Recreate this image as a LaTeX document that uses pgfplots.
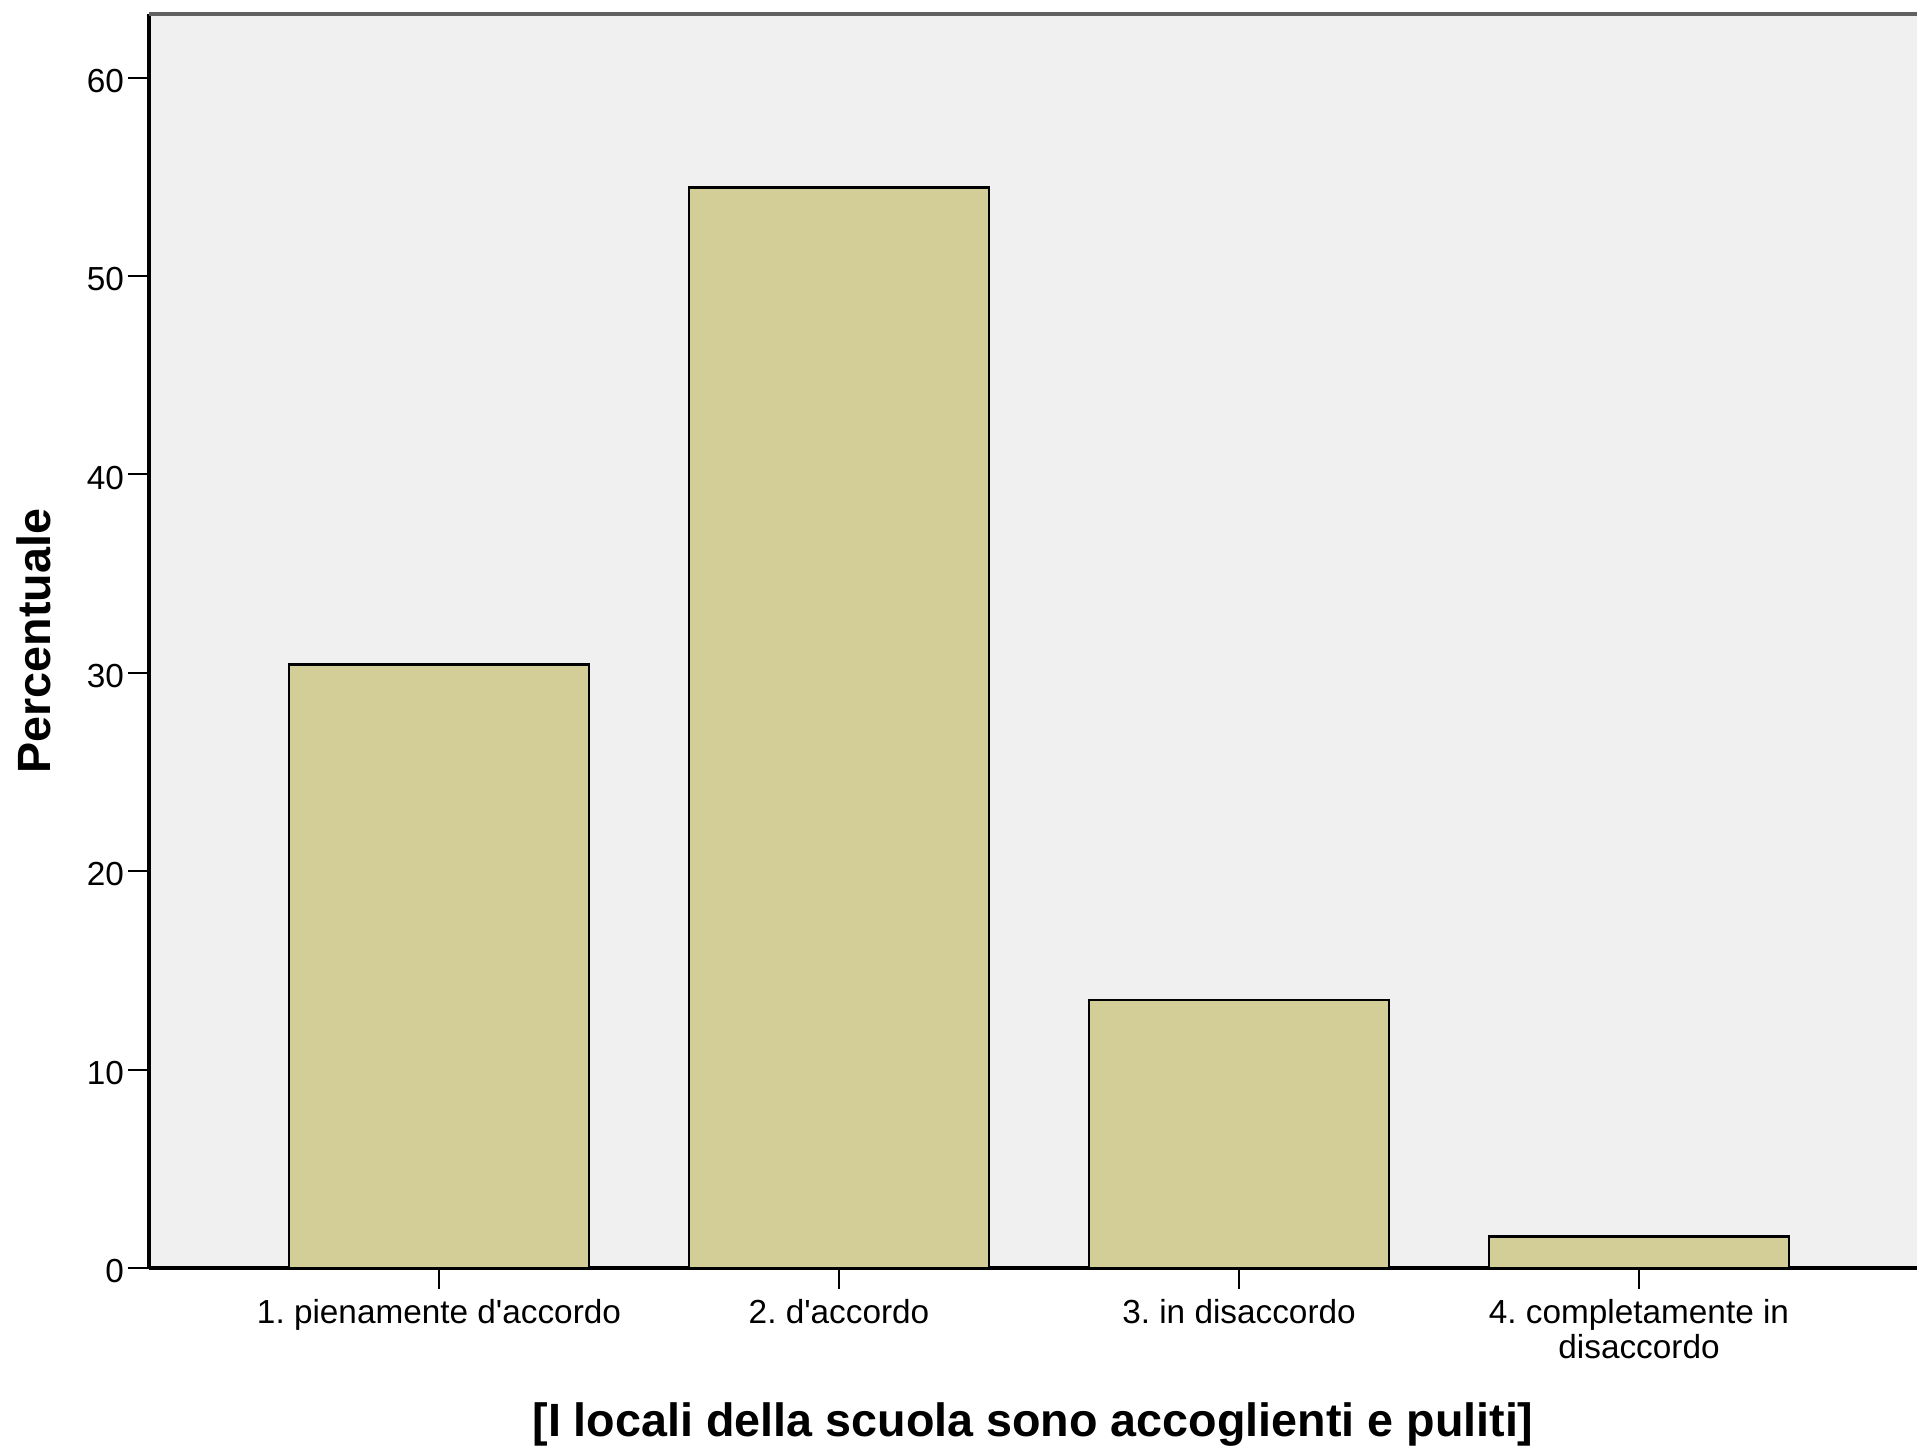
\documentclass[border=0pt]{standalone}
\usepackage{fontspec}
\setmainfont{Liberation Sans}
\usepackage{pgfplots}
\pgfplotsset{compat=1.18}
\definecolor{barfill}{RGB}{211,206,151}
\definecolor{plotbg}{RGB}{240,240,240}
\frenchspacing
\begin{document}
\begin{tikzpicture}
\begin{axis}[
  at={(0,0)}, anchor=south west,
  scale only axis,
  width=530.4pt, height=376.2pt,
  xmin=-0.725, xmax=3.695,
  ymin=0, ymax=63.2,
  axis lines*=left,
  axis line style={black, line width=1pt, -},
  axis background/.style={fill=plotbg},
  ytick={0,10,20,30,40,50,60},
  xtick={0,1,2,3},
  xticklabels={1. pienamente d\textquotesingle accordo, 2. d\textquotesingle accordo, 3. in disaccordo, {4. completamente in\\disaccordo}},
  tick align=outside,
  major tick length=6.3pt,
  tick style={black, line width=0.6pt},
  /pgf/number format/assume math mode=true,
  yticklabel style={font=\fontsize{10}{10}\selectfont, inner sep=1pt, yshift=-1pt},
  xticklabel style={font=\fontsize{10}{9}\selectfont, align=center, inner sep=1pt, yshift=-2pt},
  ylabel={Percentuale},
  xlabel={[I locali della scuola sono accoglienti e puliti]},
  ylabel style={font=\fontsize{14}{14}\selectfont\bfseries, at={(axis description cs:-0.065,0.5)}, anchor=center, rotate=0},
  xlabel style={font=\fontsize{14}{14}\selectfont\bfseries, at={(axis description cs:0.5,-0.125)}, anchor=center},
  clip=false,
]
\addplot[ybar, bar width=90pt, fill=barfill, draw=black, line width=0.8pt]
  coordinates {(0,30.4) (1,54.45) (2,13.5) (3,1.6)};
\draw[color=black!62, line width=1.2pt] (rel axis cs:0,1) -- (rel axis cs:1,1);
\end{axis}
\pgfresetboundingbox
\path (-44.7pt,-53.7pt) rectangle (530.4pt,380.4pt);
\end{tikzpicture}
\end{document}
